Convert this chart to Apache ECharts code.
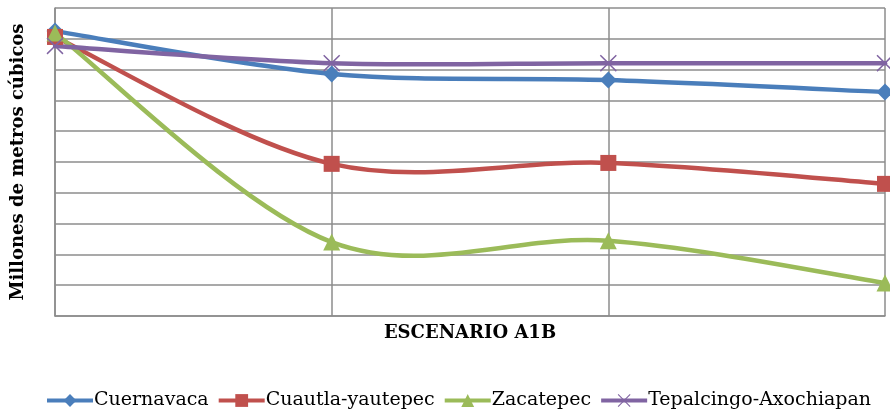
<!DOCTYPE html>
<html><head><meta charset="utf-8">
<script src="https://cdn.jsdelivr.net/npm/echarts@6/dist/echarts.min.js"></script>
<style>html,body{margin:0;padding:0;background:#fff}#c{width:890px;height:415px}</style>
</head><body><div id="c"></div>
<script>
const categories = ['2010', '2030', '2050', '2080'];
const cuernavaca = [9.25, 7.86, 7.66, 7.27];
const cuautla = [9.06, 4.94, 4.97, 4.29];
const zacatepec = [9.19, 2.40, 2.44, 1.07];
const tepalcingo = [8.77, 8.21, 8.21, 8.21];
const seriesNames = ['Cuernavaca', 'Cuautla-yautepec', 'Zacatepec', 'Tepalcingo-Axochiapan'];

const FONT = '"DejaVu Serif", "Liberation Serif", serif';
const xPath = 'path://M0,6L6,0L50,44L94,0L100,6L56,50L100,94L94,100L50,56L6,100L0,94L44,50Z';
const colors = ['#4A7EBB', '#C0504D', '#9BBB59', '#8064A2'];
const allData = [cuernavaca, cuautla, zacatepec, tepalcingo];

// smooth curve (Catmull-Rom style, like a spreadsheet's smoothed line) drawn via axis coords
function curve(name, values, color) {
  return {
    name: name + ' (curva)', type: 'custom', z: 2, silent: true,
    data: values.map((v, i) => [i, v]),
    renderItem: function (params, api) {
      const i = params.dataIndex;
      const n = values.length;
      if (i >= n - 1) return null;
      const P = j => { const c = Math.max(0, Math.min(n - 1, j)); return api.coord([c, values[c]]); };
      const p0 = P(i - 1), p1 = P(i), p2 = P(i + 1), p3 = P(i + 2);
      const k = 1 / 6;
      return {
        type: 'bezierCurve',
        shape: {
          x1: p1[0], y1: p1[1], x2: p2[0], y2: p2[1],
          cpx1: p1[0] + (p2[0] - p0[0]) * k, cpy1: p1[1] + (p2[1] - p0[1]) * k,
          cpx2: p2[0] - (p3[0] - p1[0]) * k, cpy2: p2[1] - (p3[1] - p1[1]) * k
        },
        style: { stroke: color, lineWidth: 4.5, fill: null, lineCap: 'round' }
      };
    }
  };
}
function marks(name, data, color, symbol, size) {
  return {
    name, type: 'line', data, z: 3,
    symbol, symbolSize: size, showSymbol: true,
    lineStyle: { color, width: 4, opacity: 0 },
    itemStyle: { color },
    emphasis: { disabled: true }
  };
}
const chart = echarts.init(document.getElementById('c'));
chart.setOption({
  animation: false,
  grid: { left: 55, right: 5, top: 8, bottom: 99, containLabel: false, outerBoundsMode: 'none' },
  xAxis: {
    type: 'category', data: categories, boundaryGap: false,
    name: 'ESCENARIO A1B', nameLocation: 'middle', nameGap: 8,
    nameTextStyle: { fontFamily: FONT, fontWeight: 'bold', fontSize: 18, color: '#000' },
    axisLabel: { show: false }, axisTick: { show: false },
    axisLine: { lineStyle: { color: '#8c8c8c', width: 1.5 } },
    splitLine: { show: true, lineStyle: { color: '#8c8c8c', width: 1.5 } }
  },
  yAxis: {
    type: 'value', min: 0, max: 10, interval: 1,
    name: 'Millones de metros cúbicos', nameLocation: 'middle', nameGap: 28,
    nameTextStyle: { fontFamily: FONT, fontWeight: 'bold', fontSize: 18, color: '#000' },
    axisLabel: { show: false }, axisTick: { show: false },
    axisLine: { show: true, lineStyle: { color: '#8c8c8c', width: 1.5 } },
    splitLine: { show: true, lineStyle: { color: '#8c8c8c', width: 1.5 } }
  },
  legend: {
    left: 40, top: 386, width: 850, itemWidth: 46, itemHeight: 16, itemGap: 8,
    padding: [5, 0, 5, 5],
    lineStyle: { opacity: 1, width: 4 },
    textStyle: { fontFamily: FONT, fontSize: 19, color: '#000', padding: [0, 0, 0, -4] },
    data: seriesNames
  },
  series: [
    ...seriesNames.map((nm, s) => curve(nm, allData[s], colors[s])),
    marks(seriesNames[0], cuernavaca, colors[0], 'diamond', 17),
    marks(seriesNames[1], cuautla, colors[1], 'rect', 16),
    marks(seriesNames[2], zacatepec, colors[2], 'triangle', 17),
    marks(seriesNames[3], tepalcingo, colors[3], xPath, 17)
  ]
});
</script></body></html>
